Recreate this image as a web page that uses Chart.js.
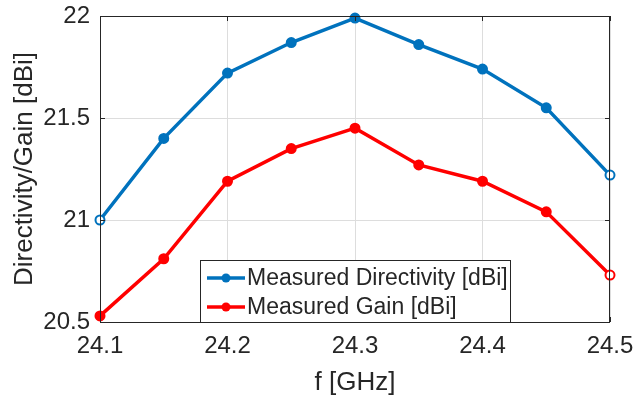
<!DOCTYPE html>
<html lang="en">
<head>
    <meta charset="UTF-8">
    <title>Directivity / Gain</title>
    <script src="https://cdn.jsdelivr.net/npm/chart.js@4/dist/chart.umd.min.js"></script>
    <style>
        body { margin: 0; background: #fff; }
        #wrap { width: 634px; height: 400px; }
    </style>
</head>
<body>
    <div id="wrap"><canvas id="plot" width="634" height="400"></canvas></div>

    <script>
        // values
        const freqs = [24.1, 24.15, 24.2, 24.25, 24.3, 24.35, 24.4, 24.45, 24.5];
        const directivity = [21.0, 21.4, 21.72, 21.87, 21.99, 21.86, 21.74, 21.55, 21.22];
        const gain = [20.53, 20.81, 21.19, 21.35, 21.45, 21.27, 21.19, 21.04, 20.73];
        const seriesLabels = ['Measured Directivity [dBi]', 'Measured Gain [dBi]'];
        const xTicks = [24.1, 24.2, 24.3, 24.4, 24.5];
        const yTicks = [20.5, 21, 21.5, 22];

        const blue = '#0072BD';
        const red = '#FF0000';
        const ink = '#262626';
        const font = "'Liberation Sans', Arial, sans-serif";

        const pts = (ys) => freqs.map((f, i) => ({x: f, y: ys[i]}));
        const fills = (col, hollow) => freqs.map((f, i) => hollow.includes(i) ? '#ffffff' : col);

        // box around the axes + inward ticks, like matlab
        const boxPlugin = {
            id: 'box',
            afterDatasetsDraw(chart) {
                const {ctx, chartArea: a, scales} = chart;
                ctx.save();
                ctx.strokeStyle = ink;
                ctx.lineWidth = 1;
                ctx.strokeRect(a.left + 0.5, a.top + 0.5, a.right - a.left - 1, a.bottom - a.top);
                ctx.beginPath();
                xTicks.forEach(v => {
                    const px = Math.round(scales.x.getPixelForValue(v)) + 0.5;
                    ctx.moveTo(px, a.bottom); ctx.lineTo(px, a.bottom - 5);
                    ctx.moveTo(px, a.top); ctx.lineTo(px, a.top + 5);
                });
                yTicks.forEach(v => {
                    const py = Math.round(scales.y.getPixelForValue(v)) + 0.5;
                    ctx.moveTo(a.left, py); ctx.lineTo(a.left + 5, py);
                    ctx.moveTo(a.right, py); ctx.lineTo(a.right - 5, py);
                });
                ctx.stroke();
                ctx.restore();
            },
            afterDraw(chart) {
                // legend box, lower middle of the axes
                const {ctx, chartArea: a} = chart;
                const lx = a.left + 100, ly = a.bottom - 62, lw = 310, lh = 62;
                ctx.save();
                ctx.fillStyle = '#fff';
                ctx.fillRect(lx, ly, lw, lh);
                ctx.strokeStyle = ink;
                ctx.lineWidth = 1;
                ctx.strokeRect(lx + 0.5, ly + 0.5, lw, lh);
                ctx.font = '23px ' + font;
                ctx.textBaseline = 'middle';
                chart.data.datasets.forEach((ds, i) => {
                    const cy = ly + 18 + i * 29;
                    ctx.strokeStyle = ds.borderColor;
                    ctx.lineWidth = 3.5;
                    ctx.beginPath();
                    ctx.moveTo(lx + 7, cy); ctx.lineTo(lx + 45, cy);
                    ctx.stroke();
                    ctx.fillStyle = ds.borderColor;
                    ctx.beginPath();
                    ctx.arc(lx + 26, cy, 4.5, 0, Math.PI * 2);
                    ctx.fill();
                    ctx.fillStyle = ink;
                    ctx.fillText(ds.label, lx + 47, cy + 1);
                });
                ctx.restore();
            }
        };

        new Chart(document.getElementById('plot'), {
            type: 'line',
            data: {
                datasets: [{
                    label: seriesLabels[0],
                    data: pts(directivity),
                    borderColor: blue,
                    pointBackgroundColor: fills(blue, [0, 8]),
                    pointBorderColor: blue,
                    borderWidth: 3.5,
                    pointRadius: 4.5,
                    pointBorderWidth: 2
                }, {
                    label: seriesLabels[1],
                    data: pts(gain),
                    borderColor: red,
                    pointBackgroundColor: fills(red, [8]),
                    pointBorderColor: red,
                    borderWidth: 3.5,
                    pointRadius: 4.5,
                    pointBorderWidth: 2
                }]
            },
            options: {
                responsive: false,
                animation: false,
                clip: false,
                layout: {padding: {top: 16, right: 24, left: 0, bottom: 0}},
                plugins: {legend: {display: false}, tooltip: {enabled: false}},
                scales: {
                    x: {
                        type: 'linear',
                        min: 24.1, max: 24.5,
                        afterBuildTicks: s => { s.ticks = xTicks.map(v => ({value: v})); },
                        afterFit: s => {
                            s.height = 78;
                            s.paddingLeft = 0; s.paddingRight = 0;
                        },
                        ticks: {
                            color: ink, padding: 10, maxRotation: 0,
                            font: {family: font, size: 24},
                            callback: v => v.toFixed(1)
                        },
                        grid: {color: '#dddddd', drawTicks: false},
                        border: {display: false},
                        title: {
                            display: true, text: 'f [GHz]', color: ink,
                            font: {family: font, size: 26}, padding: {top: 0, bottom: 2}
                        }
                    },
                    y: {
                        min: 20.5, max: 22,
                        afterBuildTicks: s => { s.ticks = yTicks.map(v => ({value: v})); },
                        afterFit: s => {
                            s.width = 100;
                            s.paddingTop = 0; s.paddingBottom = 0;
                        },
                        ticks: {
                            color: ink, padding: 10,
                            font: {family: font, size: 24},
                            callback: v => String(v)
                        },
                        grid: {color: '#dddddd', drawTicks: false},
                        border: {display: false},
                        title: {
                            display: true, text: 'Directivity/Gain [dBi]', color: ink,
                            font: {family: font, size: 26}, padding: {top: 9, bottom: 0}
                        }
                    }
                }
            },
            plugins: [boxPlugin]
        });
    </script>
</body>
</html>
